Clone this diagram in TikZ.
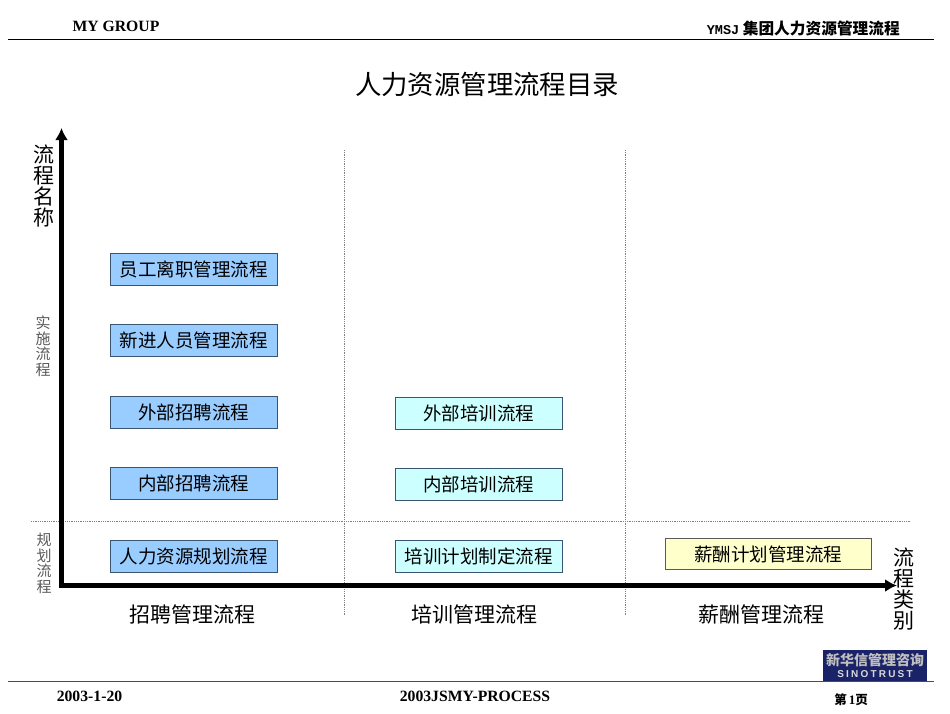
\documentclass[tikz,border=0pt]{standalone}
\usepackage{fontspec}
\setmainfont{Liberation Serif}
\newfontfamily\cjk{Noto Sans CJK SC}
\newfontfamily\lsans{Liberation Sans}
\newfontfamily\lmono{Liberation Mono}
\usetikzlibrary{arrows.meta}
\definecolor{bluebox}{HTML}{99CCFF}
\definecolor{cyanbox}{HTML}{CCFFFF}
\definecolor{yellowbox}{HTML}{FFFFCC}
\definecolor{boxline}{HTML}{3A5570}
\definecolor{logoblue}{HTML}{1B2368}
\tikzset{
  procbox/.style={draw=boxline,line width=1pt,minimum width=166.5pt,minimum height=32pt,inner sep=0pt,font=\cjk\fontsize{18.5}{20}\selectfont,text=black},
  bluep/.style={procbox,fill=bluebox},
  cyanp/.style={procbox,fill=cyanbox},
  yellowp/.style={procbox,fill=yellowbox,draw=black!65},
  axislbl/.style={font=\cjk\fontsize{21}{21}\selectfont,align=center,inner sep=0pt},
  sidelbl/.style={font=\cjk\fontsize{15}{15.5}\selectfont\color{black!65},align=center,inner sep=0pt},
  catlbl/.style={font=\cjk\fontsize{21}{24}\selectfont,inner sep=0pt},
  headfoot/.style={font=\bfseries\fontsize{15.7}{17}\selectfont,inner sep=0pt},
  rulegray/.style={line width=0.8pt,black!50,dash pattern=on 0.9pt off 0.9pt},
  axisline/.style={line width=4.5pt,-{Latex[length=12pt,width=13pt]}},
}
\begin{document}
\begin{tikzpicture}[x=1pt,y=-1pt]
\useasboundingbox (0,0) rectangle (950,713);
% header and footer rules
\coordinate (hl) at (8,39.5); \coordinate (hr) at (934,39.5);
\coordinate (fl) at (8,681); \coordinate (fr) at (934,681);
\draw[line width=1pt,black] (hl) -- (hr);
\draw[line width=1pt,black!70] (fl) -- (fr);
% header
\node[headfoot] (hleft) at (116,26.5) {MY GROUP};
\node[inner sep=0pt,anchor=east,font=\cjk\bfseries\fontsize{15.7}{17}\selectfont] (hright) at (900,28.5) {{\lmono\bfseries\fontsize{13.5}{16}\selectfont YMSJ} 集团人力资源管理流程};
% title
\node[inner sep=0pt,font=\cjk\fontsize{26.4}{30}\selectfont] (title) at (487,84.5) {人力资源管理流程目录};
% dotted rules
\coordinate (v1t) at (344.5,150); \coordinate (v1b) at (344.5,616);
\coordinate (v2t) at (625.5,150); \coordinate (v2b) at (625.5,616);
\coordinate (hdl) at (31,521); \coordinate (hdr) at (911,521);
\draw[rulegray] (v1t) -- (v1b);
\draw[rulegray] (v2t) -- (v2b);
\draw[rulegray] (hdl) -- (hdr);
% axes
\coordinate (origin) at (61.5,585.5);
\coordinate (ytip) at (61.5,128);
\coordinate (xtip) at (897,585.5);
\draw[axisline] (61.5,587.7) -- (ytip);
\draw[axisline] (59.3,585.5) -- (xtip);
% axis labels
\node[axislbl] (ylbl) at (44,186) {流\\程\\名\\称};
\node[axislbl] (xlbl) at (903.5,589) {流\\程\\类\\别};
\node[sidelbl] (impl) at (43,346) {实\\施\\流\\程};
\node[sidelbl] (plan) at (44,563.5) {规\\划\\流\\程};
% boxes column 1
\node[bluep] (a5) at (193.75,269) {员工离职管理流程};
\node[bluep] (a4) at (193.75,340.5) {新进人员管理流程};
\node[bluep] (a3) at (193.75,412) {外部招聘流程};
\node[bluep] (a2) at (193.75,483) {内部招聘流程};
\node[bluep] (a1) at (193.75,556) {人力资源规划流程};
% column 2
\node[cyanp] (b3) at (478.75,413.5) {外部培训流程};
\node[cyanp] (b2) at (478.75,484.5) {内部培训流程};
\node[cyanp] (b1) at (478.75,556) {培训计划制定流程};
% column 3
\node[yellowp,minimum width=206pt,minimum height=31pt] (c1) at (768,554) {薪酬计划管理流程};
% categories
\node[catlbl] (cat1) at (192.5,614) {招聘管理流程};
\node[catlbl] (cat2) at (474.5,614) {培训管理流程};
\node[catlbl] (cat3) at (761,614) {薪酬管理流程};
% logo
\node[fill=logoblue,minimum width=104pt,minimum height=31pt,inner sep=0pt] (logo) at (875,665) {};
\node[inner sep=0pt,font=\cjk\bfseries\fontsize{14}{16}\selectfont,text=black!25] (logot) at (875,660) {新华信管理咨询};
\node[inner sep=0pt,font=\lsans\bfseries\fontsize{10}{10}\selectfont,text=black!15] (logos) at (875,674.5) {S\hspace{2.2pt}I\hspace{2.2pt}N\hspace{2.2pt}O\hspace{2.2pt}T\hspace{2.2pt}R\hspace{2.2pt}U\hspace{2.2pt}S\hspace{2.2pt}T};
% footer
\node[headfoot] (fdate) at (89.5,696.5) {2003-1-20};
\node[headfoot] (fmid) at (475,696.5) {2003JSMY-PROCESS};
\node[inner sep=0pt,font=\bfseries\fontsize{13}{15}\selectfont] (fpage) at (851,700) {{\cjk\bfseries\fontsize{12.5}{15}\selectfont 第}\hspace{2pt}1{\cjk\bfseries\fontsize{12.5}{15}\selectfont 页}};
\end{tikzpicture}
\end{document}
